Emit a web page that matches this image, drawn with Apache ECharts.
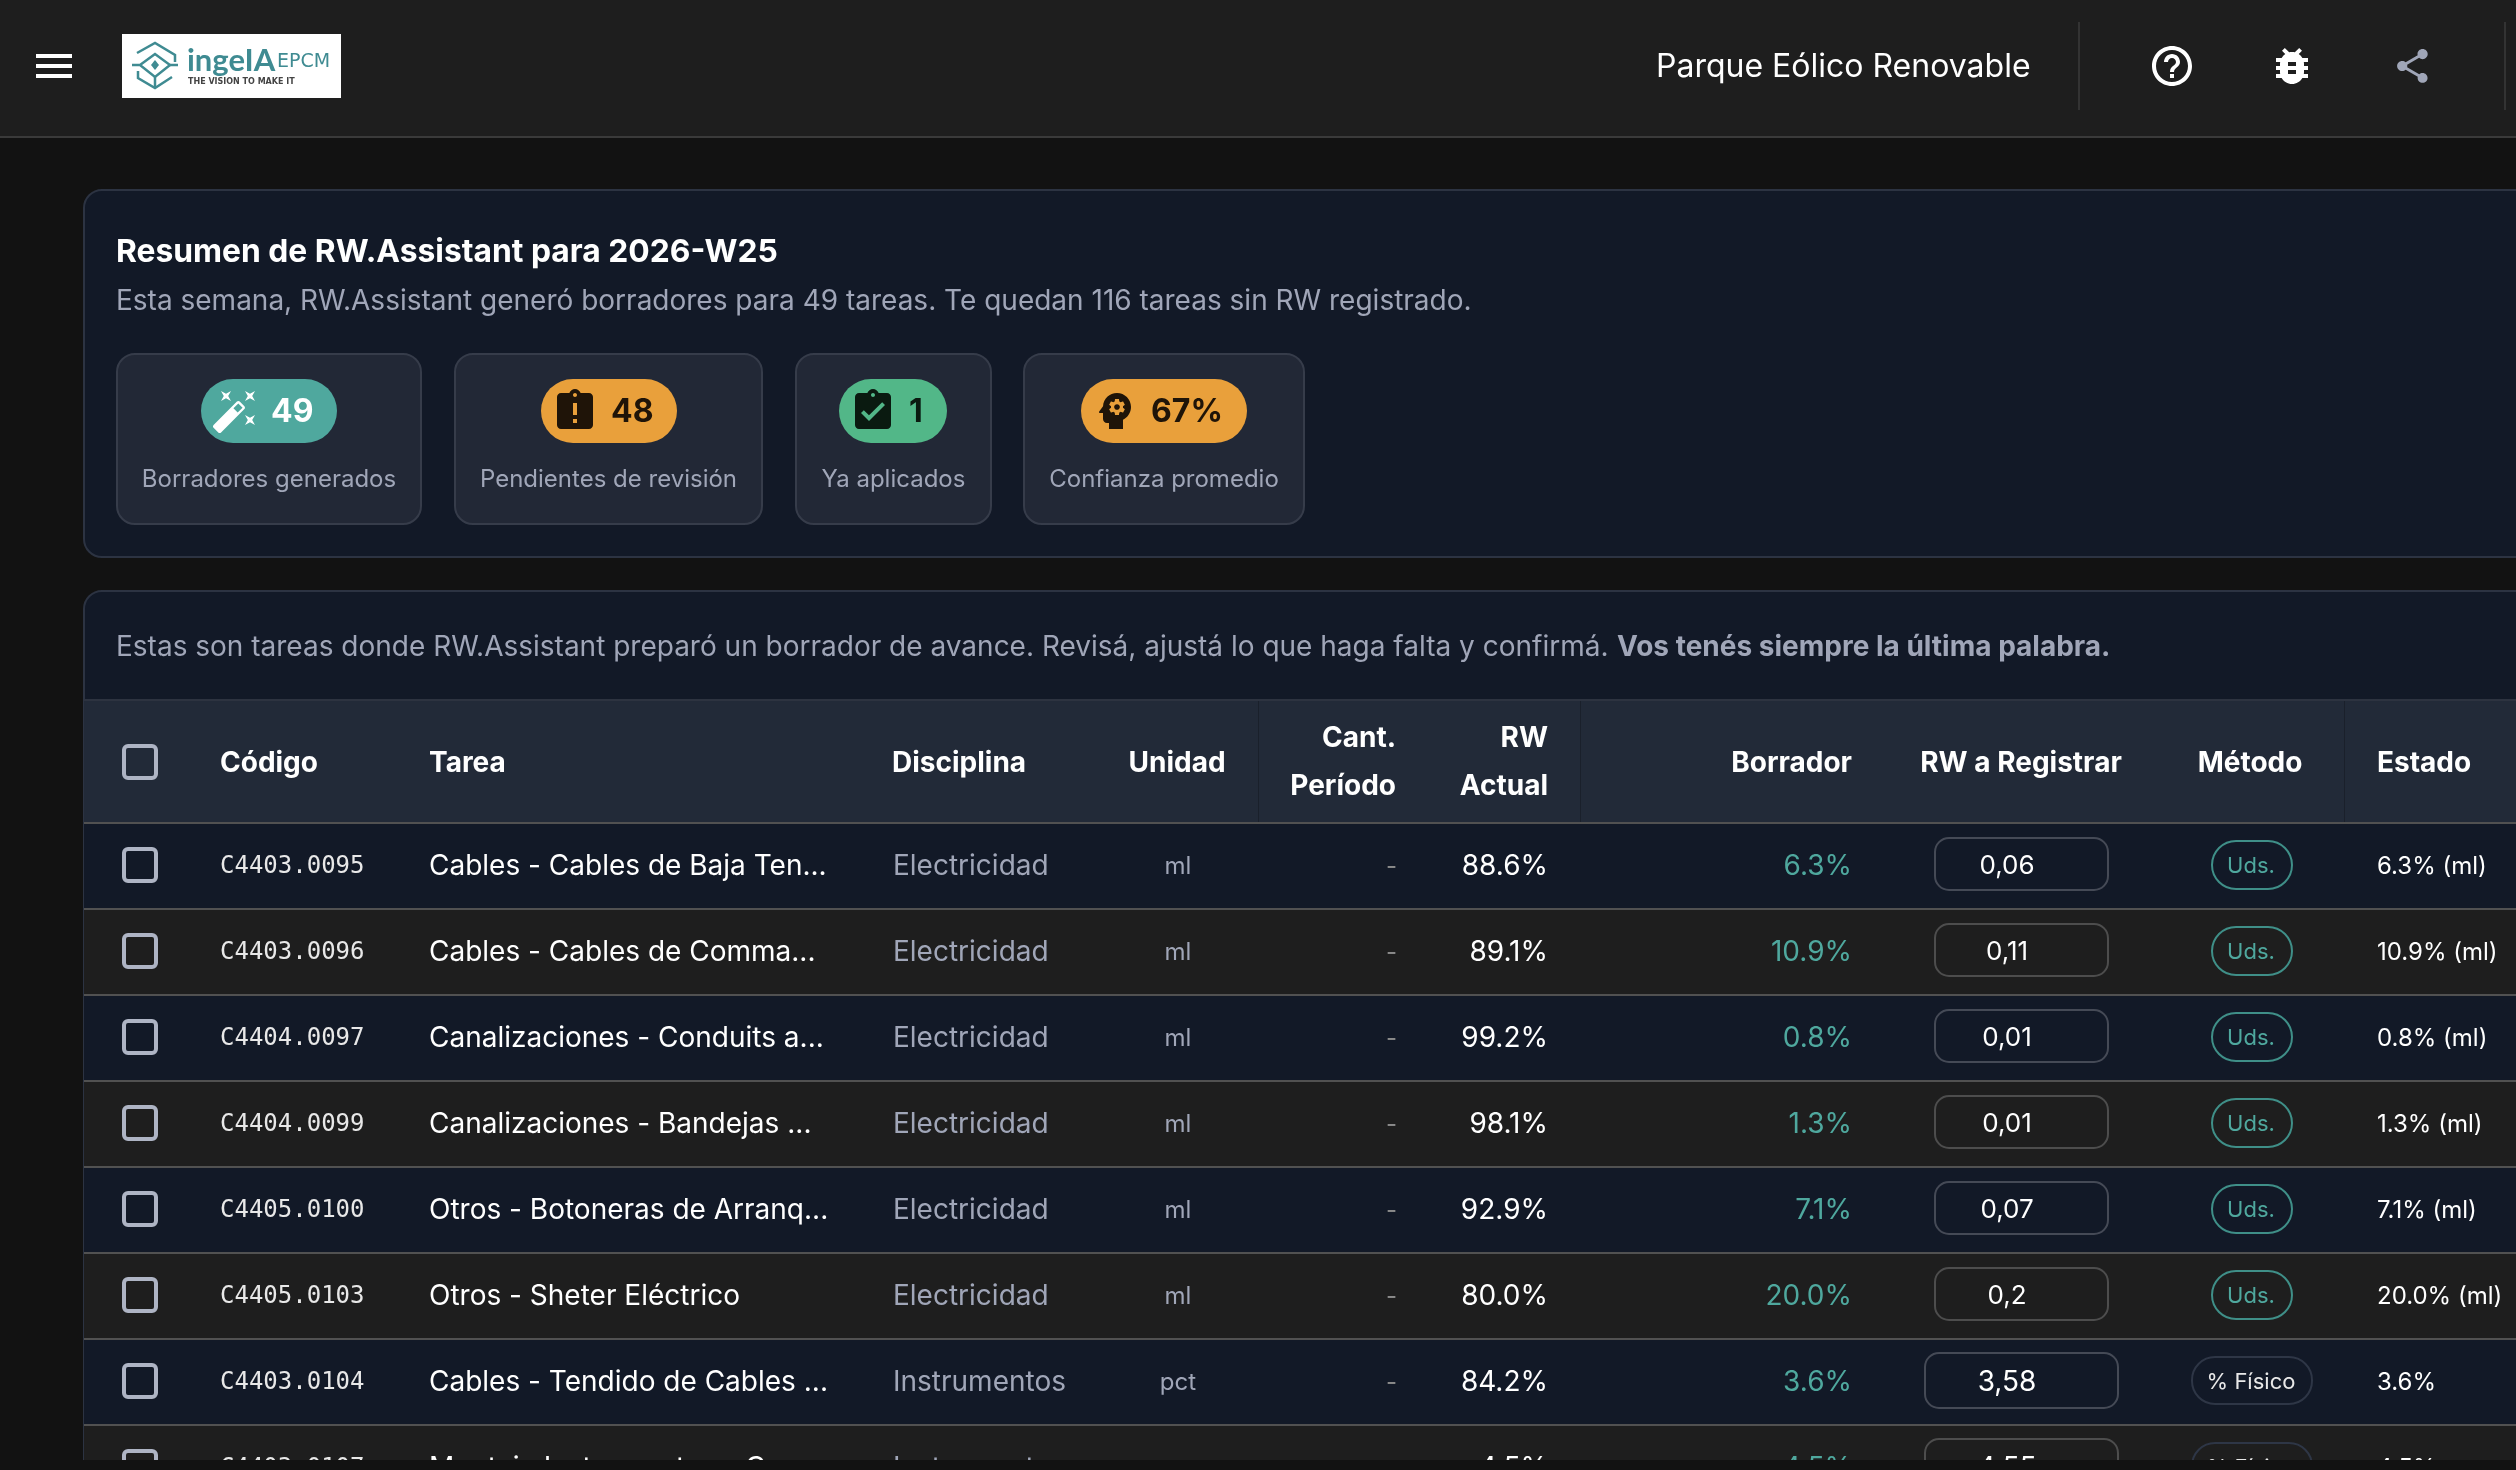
<!DOCTYPE html>
<html>
<head>
<meta charset="utf-8">
<style>
html,body{margin:0;padding:0;background:#121212;overflow:hidden}
#main{width:2516px;height:1470px}
</style>
<script src="https://cdn.jsdelivr.net/npm/echarts@6/dist/echarts.min.js"></script>
</head>
<body>
<div id="main"></div>
<script>
// datos de la tabla
var codes = ['C4403.0095','C4403.0096','C4404.0097','C4404.0099','C4405.0100','C4405.0103','C4403.0104','C4403.0107'];
var tasks = ['Cables - Cables de Baja Ten...','Cables - Cables de Comma...','Canalizaciones - Conduits a...','Canalizaciones - Bandejas ...','Otros - Botoneras de Arranq...','Otros - Sheter Eléctrico','Cables - Tendido de Cables ...','Montaje Instrumentos - C...'];
var disciplines = ['Electricidad','Electricidad','Electricidad','Electricidad','Electricidad','Electricidad','Instrumentos','Instrumentos'];
var units = ['ml','ml','ml','ml','ml','ml','pct','pct'];
var rwActual = ['88.6%','89.1%','99.2%','98.1%','92.9%','80.0%','84.2%','4.5%'];
var drafts = ['6.3%','10.9%','0.8%','1.3%','7.1%','20.0%','3.6%','4.5%'];
var toRegister = ['0,06','0,11','0,01','0,01','0,07','0,2','3,58','4,55'];
var methods = ['Uds.','Uds.','Uds.','Uds.','Uds.','Uds.','% Físico','% Físico'];
var states = ['6.3% (ml)','10.9% (ml)','0.8% (ml)','1.3% (ml)','7.1% (ml)','20.0% (ml)','3.6%','4.5%'];
// tarjetas de resumen
var cardValues = ['49','48','1','67%'];
var cardLabels = ['Borradores generados','Pendientes de revisión','Ya aplicados','Confianza promedio'];

var ICONS = {
	wand: 'M7.5 5.6L10 7 8.6 4.5 10 2 7.5 3.4 5 2l1.4 2.5L5 7zm12 9.8L17 14l1.4 2.5L17 19l2.5-1.4L22 19l-1.4-2.5L22 14zM22 2l-2.5 1.4L17 2l1.4 2.5L17 7l2.5-1.4L22 7l-1.4-2.5zm-7.63 5.29c-.39-.39-1.02-.39-1.41 0L1.29 18.96c-.39.39-.39 1.02 0 1.41l2.34 2.34c.39.39 1.02.39 1.41 0L16.7 11.05c.39-.39.39-1.02 0-1.41l-2.33-2.35zm-1.03 5.49l-2.12-2.12 2.44-2.44 2.12 2.12-2.44 2.44z',
	late: 'M19 3h-4.18C14.4 1.84 13.3 1 12 1c-1.3 0-2.4.84-2.82 2H5c-1.1 0-2 .9-2 2v14c0 1.1.9 2 2 2h14c1.1 0 2-.9 2-2V5c0-1.1-.9-2-2-2zm-6 15h-2v-2h2v2zm0-4h-2V8h2v6zm-1-9c-.55 0-1-.45-1-1s.45-1 1-1 1 .45 1 1-.45 1-1 1z',
	done: 'M19 3h-4.18C14.4 1.84 13.3 1 12 1c-1.3 0-2.4.84-2.82 2H5c-1.1 0-2 .9-2 2v14c0 1.1.9 2 2 2h14c1.1 0 2-.9 2-2V5c0-1.1-.9-2-2-2zm-7 0c.55 0 1 .45 1 1s-.45 1-1 1-1-.45-1-1 .45-1 1-1zm-2 14l-4-4 1.41-1.41L10 14.17l6.59-6.59L18 9l-8 8z',
	head: 'M13 8.57c-.79 0-1.43.64-1.43 1.43s.64 1.43 1.43 1.43 1.43-.64 1.43-1.43-.64-1.43-1.43-1.43zM13 3C9.25 3 6.2 5.94 6.02 9.64L4.1 12.2c-.25.33-.01.8.4.8H6v3c0 1.1.9 2 2 2h1v3h7v-4.68c2.36-1.12 4-3.53 4-6.32 0-3.87-3.13-7-7-7zm3 7c0 .13-.01.26-.02.39l.83.66c.08.06.1.16.05.25l-.8 1.39c-.05.09-.16.12-.24.09l-.99-.4c-.21.16-.43.29-.67.39L14 13.83c-.01.1-.1.17-.2.17h-1.6c-.1 0-.18-.07-.2-.17l-.15-1.06c-.25-.1-.47-.23-.68-.39l-.99.4c-.09.03-.2 0-.25-.09l-.8-1.39c-.05-.08-.03-.19.05-.25l.84-.66c-.01-.13-.02-.26-.02-.39s.02-.27.04-.39l-.85-.66c-.08-.06-.1-.16-.05-.26l.8-1.38c.05-.09.15-.12.24-.09l1 .4c.2-.15.43-.29.67-.39L12 6.17c.02-.1.1-.17.2-.17h1.6c.1 0 .18.07.2.17l.15 1.06c.24.1.46.23.67.39l1-.4c.09-.03.2 0 .24.09l.8 1.38c.05.09.03.2-.05.26l-.85.66c.03.12.04.25.04.39z',
	help: 'M11 18h2v-2h-2v2zm1-16C6.48 2 2 6.48 2 12s4.48 10 10 10 10-4.48 10-10S17.52 2 12 2zm0 18c-4.41 0-8-3.59-8-8s3.59-8 8-8 8 3.59 8 8-3.59 8-8 8zm0-14c-2.21 0-4 1.79-4 4h2c0-1.1.9-2 2-2s2 .9 2 2c0 2-3 1.75-3 5h2c0-2.25 3-2.5 3-5 0-2.21-1.79-4-4-4z',
	bug: 'M20 8h-2.81c-.45-.78-1.07-1.45-1.82-1.96L17 4.41 15.59 3l-2.17 2.17C12.96 5.06 12.49 5 12 5c-.49 0-.96.06-1.41.17L8.41 3 7 4.41l1.62 1.63C7.88 6.55 7.26 7.22 6.81 8H4v2h2.09c-.05.33-.09.66-.09 1v1H4v2h2v1c0 .34.04.67.09 1H4v2h2.81c1.04 1.79 2.97 3 5.19 3s4.15-1.21 5.19-3H20v-2h-2.09c.05-.33.09-.66.09-1v-1h2v-2h-2v-1c0-.34-.04-.67-.09-1H20V8zm-6 8h-4v-2h4v2zm0-4h-4v-2h4v2z',
	share: 'M18 16.08c-.76 0-1.44.3-1.96.77L8.91 12.7c.05-.23.09-.46.09-.7s-.04-.47-.09-.7l7.05-4.11c.54.5 1.25.81 2.04.81 1.66 0 3-1.34 3-3s-1.34-3-3-3-3 1.34-3 3c0 .24.04.47.09.7L8.04 9.81C7.5 9.31 6.79 9 6 9c-1.66 0-3 1.34-3 3s1.34 3 3 3c.79 0 1.5-.31 2.04-.81l7.12 4.16c-.05.21-.08.43-.08.65 0 1.61 1.31 2.92 2.92 2.92 1.61 0 2.92-1.31 2.92-2.92s-1.31-2.92-2.92-2.92z'
};
// graphic no acepta pathData directo, se registra cada icono como shape
for (var k in ICONS) {
	echarts.graphic.registerShape('icon_' + k, echarts.graphic.extendPath(ICONS[k], {}));
}

var els = [];
var zIdx = 1;

function rect(x, y, w, h, fill, r, stroke, lw) {
	els.push({type:'rect', z:zIdx++, shape:{x:x, y:y, width:w, height:h, r:r||0},
		style:{fill:fill||'transparent', stroke:stroke||null, lineWidth:lw||0}});
}
function txt(s, x, y, font, color, align) {
	els.push({type:'text', z:zIdx++, x:x, y:y, style:{text:s, font:font, fill:color, align:align||'left', verticalAlign:'middle'}});
}
function icon(name, x, y, scale, color) {
	els.push({type:'icon_' + name, z:zIdx++, x:x, y:y, scaleX:scale, scaleY:scale, style:{fill:color}});
}
function line(points, color, lw) {
	els.push({type:'polyline', z:zIdx++, shape:{points:points}, style:{stroke:color, lineWidth:lw, fill:null}});
}

// barra superior
rect(0, 0, 2516, 136, '#1e1e1e');
rect(0, 136, 2516, 2, '#3a3a3a');
rect(36, 54, 36, 4, '#ffffff');
rect(36, 64, 36, 4, '#ffffff');
rect(36, 74, 36, 4, '#ffffff');

// logo
var TEAL_LOGO = '#3f8b92';
rect(122, 34, 219, 64, '#ffffff');
line([[137,53],[155,43],[175,55],[175,62]], TEAL_LOGO, 2.5);
line([[132,65],[140,65],[155,54],[170,65],[155,77],[140,65]], TEAL_LOGO, 2.5);
line([[170,65],[178,65]], TEAL_LOGO, 2.5);
line([[138,71],[138,78],[155,88],[172,77]], TEAL_LOGO, 2.5);
line([[155,77],[155,88]], TEAL_LOGO, 2.5);
els.push({type:'polygon', z:zIdx++, shape:{points:[[155,60],[159,65],[155,70],[151,65]]}, style:{fill:TEAL_LOGO}});
txt('ingeIA', 187, 61, '700 31px Lato', TEAL_LOGO);
txt('EPCM', 277, 62, '500 19px "DejaVu Sans"', TEAL_LOGO);
txt('THE VISION TO MAKE IT', 188, 82, '600 8px "DejaVu Sans"', '#444444');

txt('Parque Eólico Renovable', 1656, 67, '400 32px Inter', '#ffffff');
rect(2078, 22, 2, 88, '#333333');
rect(2504, 22, 2, 88, '#333333');
icon('help', 2148, 42, 2, '#ffffff');
icon('bug', 2268, 42, 2, '#ffffff');
icon('share', 2392, 45.6, 1.7, '#a0a6b8');

// panel resumen
rect(84, 190, 2500, 367, '#121927', 18, '#2c3342', 2);
txt('Resumen de RW.Assistant para 2026-W25', 116, 252, '700 31.8px Inter', '#ffffff');
txt('Esta semana, RW.Assistant generó borradores para 49 tareas. Te quedan 116 tareas sin RW registrado.', 116, 302, '400 28px Inter', '#a0a6b8');

var cardX = [117, 455, 796, 1024];
var cardW = [304, 307, 195, 280];
var pillX = [201, 541, 839, 1081];
var pillW = [136, 136, 108, 166];
var pillColor = ['#4fa89e', '#e9a03b', '#52b788', '#e9a03b'];
var pillText = ['#ffffff', '#1f1408', '#0a1a10', '#1f1408'];
var iconNames = ['wand', 'late', 'done', 'head'];
var iconX = [211, 551, 849, 1091];
var valueX = [271, 611, 909, 1151];
for (var c = 0; c < 4; c++) {
	rect(cardX[c], 354, cardW[c], 170, '#222836', 18, '#363c4a', 2);
	rect(pillX[c], 379, pillW[c], 64, pillColor[c], 32);
	icon(iconNames[c], iconX[c], 387, 2, pillText[c]);
	txt(cardValues[c], valueX[c], 412.5, '700 32px Inter', pillText[c]);
	txt(cardLabels[c], cardX[c] + cardW[c] / 2, 480, '400 24px Inter', '#a0a6b8', 'center');
}

// panel tabla
rect(84, 591, 2500, 900, '#121927', 18, '#2c3342', 2);
txt('Estas son tareas donde RW.Assistant preparó un borrador de avance. Revisá, ajustá lo que haga falta y confirmá.', 116, 647.5, '400 28px Inter', '#a0a6b8');
txt('Vos tenés siempre la última palabra.', 1617, 647.5, '700 28px Inter', '#a0a6b8');

// cabecera tabla
rect(84, 699, 2432, 2, '#2d3340');
rect(84, 701, 2432, 121, '#222a38');
rect(1258, 701, 1, 121, '#1a202b');
rect(1580, 701, 1, 121, '#1a202b');
rect(2344, 701, 1, 121, '#1a202b');
rect(124, 746, 32, 32, 'transparent', 4, '#aeb4c4', 4);
var H = '700 28px Inter';
txt('Código', 220, 763.5, H, '#ffffff');
txt('Tarea', 429, 763.5, H, '#ffffff');
txt('Disciplina', 892, 763.5, H, '#ffffff');
txt('Unidad', 1177, 763.5, H, '#ffffff', 'center');
txt('Cant.', 1396, 738.5, H, '#ffffff', 'right');
txt('Período', 1396, 786.5, H, '#ffffff', 'right');
txt('RW', 1548, 738.5, H, '#ffffff', 'right');
txt('Actual', 1548, 786.5, H, '#ffffff', 'right');
txt('Borrador', 1852, 763.5, H, '#ffffff', 'right');
txt('RW a Registrar', 2021, 763.5, H, '#ffffff', 'center');
txt('Método', 2250, 763.5, H, '#ffffff', 'center');
txt('Estado', 2377, 763.5, H, '#ffffff');

// filas
var ROW_H = 86;
for (var i = 0; i < codes.length; i++) {
	var rowTop = 822 + i * ROW_H;
	var cy = rowTop + 43;
	var ty = cy + 1.5;
	var isPct = units[i] === 'pct';
	rect(84, rowTop, 2432, ROW_H, i % 2 === 0 ? '#121927' : '#1e1e1e');
	rect(84, rowTop, 2432, 2, '#515151');
	rect(124, cy - 16, 32, 32, 'transparent', 4, '#aeb4c4', 4);
	txt(codes[i], 220, ty, '400 24px "DejaVu Sans Mono"', '#e8e8e8');
	txt(tasks[i], 429, ty, '400 28px Inter', '#ffffff');
	txt(disciplines[i], 893, ty, '400 28px Inter', '#a0a6b8');
	txt(units[i], 1178, ty, '400 24px Inter', '#a0a6b8', 'center');
	txt('-', 1397, ty, '400 24px Inter', '#8a8a8a', 'right');
	txt(rwActual[i], 1548, ty, '400 28px Inter', '#ffffff', 'right');
	txt(drafts[i], 1852, ty, '400 28px Inter', '#4fa89e', 'right');
	if (isPct) {
		rect(1925, cy - 28, 193, 55, 'transparent', 14, i % 2 === 0 ? '#454a56' : '#4d4d4d', 2);
		rect(2192, cy - 24, 120, 47, 'transparent', 23, '#2e3646', 2);
	} else {
		rect(1935, cy - 27, 173, 52, 'transparent', 14, i % 2 === 0 ? '#454a56' : '#4d4d4d', 2);
		rect(2212, cy - 24, 80, 48, 'transparent', 24, '#3f8f88', 2);
	}
	txt(toRegister[i], 2007, ty, isPct ? '400 28px Inter' : '400 26px Inter', '#ffffff', 'center');
	txt(methods[i], 2251, ty, '400 22px Inter', isPct ? '#e8e8e8' : '#4fa89e', 'center');
	txt(states[i], 2377, ty, '400 24px Inter', '#ffffff');
}

// franja inferior de la página
rect(0, 1460, 2516, 10, '#121212');

var myChart = echarts.init(document.getElementById('main'));
myChart.setOption({
	backgroundColor: '#121212',
	animation: false,
	graphic: { elements: els }
});
</script>
</body>
</html>
